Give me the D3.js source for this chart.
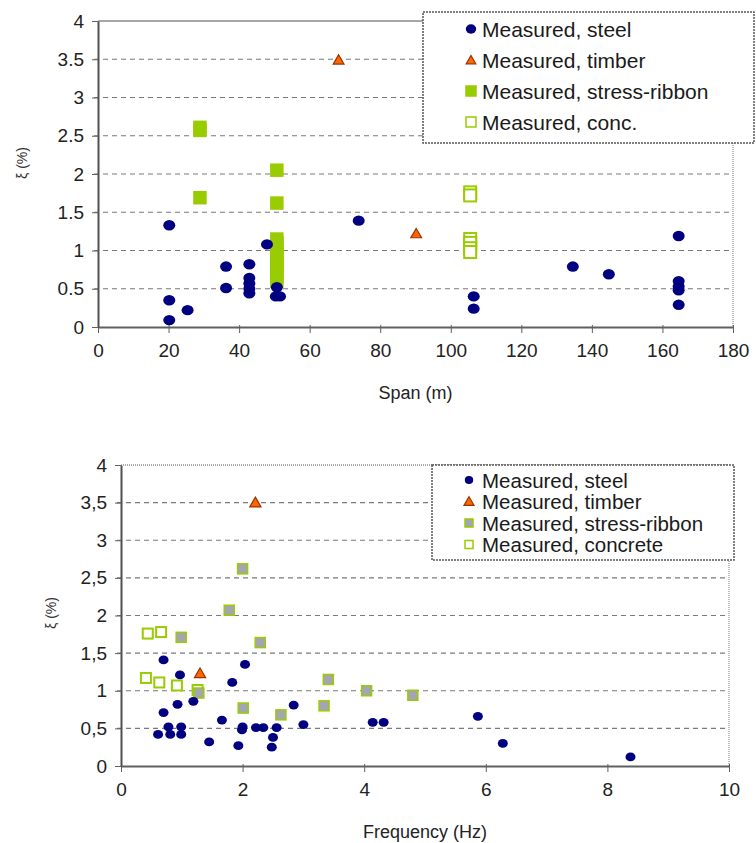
<!DOCTYPE html>
<html>
<head>
<meta charset="utf-8">
<script src="https://cdn.jsdelivr.net/npm/d3@7"></script>
<style>
  body { margin: 0; background: #fff; }
  svg { font-family: "Liberation Sans", Arial, sans-serif; }
</style>
</head>
<body>
<div id="chart"></div>
<script>
const w = 756;
const h = 843;

// span chart data [span (m), damping (%)]
const spanSteel = [[20.2, 1.33], [20.2, 0.35], [20.2, 0.09], [25.4, 0.22], [36.3, 0.79], [36.3, 0.51],
  [42.9, 0.82], [42.9, 0.64], [42.9, 0.57], [42.9, 0.5], [42.9, 0.44], [47.9, 1.08], [50.7, 0.52],
  [50.4, 0.4], [51.6, 0.4], [73.9, 1.39], [106.5, 0.4], [106.5, 0.24], [134.6, 0.79], [144.8, 0.69],
  [164.6, 1.19], [164.6, 0.6], [164.6, 0.53], [164.6, 0.48], [164.6, 0.29]];
const spanTimber = [[68.2, 3.49], [90.2, 1.22]];
const spanRibbon = [[28.9, 2.61], [28.9, 2.57], [28.9, 1.69], [50.7, 2.05], [50.7, 1.62],
  [50.7, 1.15], [50.7, 1.1], [50.7, 1.05], [50.7, 1.0], [50.7, 0.95], [50.7, 0.9], [50.7, 0.85],
  [50.7, 0.8], [50.7, 0.75], [50.7, 0.7], [50.7, 0.65], [50.7, 0.6]];
const spanConc = [[105.5, 1.76], [105.5, 1.72], [105.5, 1.15], [105.5, 1.1], [105.5, 1.03], [105.5, 0.98]];
const spanTicks = [0, 20, 40, 60, 80, 100, 120, 140, 160, 180];
const spanLegend = ['Measured, steel', 'Measured, timber', 'Measured, stress-ribbon', 'Measured, conc.'];

// frequency chart data [frequency (Hz), damping (%)]
const freqSteel = [[0.70, 1.41], [0.97, 1.21], [2.04, 1.35], [1.83, 1.11], [0.70, 0.71], [0.93, 0.82],
  [1.19, 0.86], [2.84, 0.81], [0.61, 0.42], [0.78, 0.52], [0.81, 0.42], [0.99, 0.52], [0.99, 0.42],
  [1.45, 0.32], [1.66, 0.61], [1.93, 0.27], [1.99, 0.48], [2.0, 0.52], [2.22, 0.51], [2.34, 0.51],
  [2.50, 0.38], [2.48, 0.25], [2.56, 0.51], [3.0, 0.55], [4.14, 0.58], [4.32, 0.58], [5.87, 0.66],
  [6.28, 0.30], [8.38, 0.12]];
const freqTimber = [[2.21, 3.5], [1.30, 1.23]];
const freqRibbon = [[2.0, 2.62], [1.78, 2.07], [0.99, 1.71], [2.29, 1.64], [3.41, 1.15], [4.04, 1.0],
  [1.28, 0.97], [2.01, 0.77], [3.34, 0.80], [2.63, 0.68], [4.80, 0.94]];
const freqConc = [[0.44, 1.76], [0.66, 1.78], [0.41, 1.17], [0.63, 1.11], [0.92, 1.07], [1.26, 1.01]];
const freqTicks = [0, 2, 4, 6, 8, 10];
const freqLegend = ['Measured, steel', 'Measured, timber', 'Measured, stress-ribbon', 'Measured, concrete'];

const yTicks = [0, 0.5, 1, 1.5, 2, 2.5, 3, 3.5, 4];

const navy = '#000080';
const green = '#99cc00';

const svg = d3.select('#chart')
  .append('svg')
  .attr('width', w)
  .attr('height', h);

function drawChart(cfg) {
  const xScale = d3.scaleLinear()
    .domain([cfg.ticks[0], cfg.ticks[cfg.ticks.length - 1]])
    .range([cfg.left, cfg.right]);
  const yScale = d3.scaleLinear()
    .domain([0, 4])
    .range([cfg.bottom, cfg.top]);

  const g = svg.append('g');

  // gridlines
  g.selectAll('line.grid')
    .data(yTicks.filter((d) => d > 0 && d < 4))
    .enter()
    .append('line')
    .attr('x1', cfg.left - 4)
    .attr('x2', cfg.right)
    .attr('y1', (d) => yScale(d))
    .attr('y2', (d) => yScale(d))
    .attr('stroke', '#7a7a7a')
    .attr('stroke-width', 1.2)
    .attr('stroke-dasharray', '5 4');

  // frame top and right
  g.append('line')
    .attr('x1', cfg.left).attr('x2', cfg.right)
    .attr('y1', cfg.top).attr('y2', cfg.top)
    .attr('stroke', '#8a8a8a')
    .attr('stroke-width', 1.5)
    .attr('stroke-dasharray', cfg.dottedTop ? '1 1' : null);
  g.append('line')
    .attr('x1', cfg.right).attr('x2', cfg.right)
    .attr('y1', cfg.top).attr('y2', cfg.bottom)
    .attr('stroke', '#8a8a8a')
    .attr('stroke-width', 1.2)
    .attr('stroke-dasharray', '1 1');

  // x-axis
  const xAxis = g.append('g')
    .attr('transform', 'translate(0,' + cfg.bottom + ')')
    .call(d3.axisBottom(xScale).tickValues(cfg.ticks).tickSize(6).tickSizeOuter(0).tickPadding(11));
  xAxis.select('.domain').attr('stroke', '#606060').attr('stroke-width', 2);
  xAxis.selectAll('line').attr('stroke', '#606060').attr('y1', -2);
  xAxis.selectAll('text')
    .style('font-size', '19px')
    .attr('fill', '#222')
    .attr('font-family', '"Liberation Sans", Arial, sans-serif');

  // y-axis
  const yAxis = g.append('g')
    .attr('transform', 'translate(' + cfg.left + ',0)')
    .call(d3.axisLeft(yScale).tickValues(yTicks).tickSize(6).tickSizeOuter(0).tickPadding(8)
      .tickFormat((d) => cfg.comma ? String(d).replace('.', ',') : String(d)));
  yAxis.select('.domain').attr('stroke', '#505050').attr('stroke-width', 2);
  yAxis.selectAll('line').attr('stroke', '#606060');
  yAxis.selectAll('text')
    .style('font-size', '19px')
    .attr('fill', '#222')
    .attr('font-family', '"Liberation Sans", Arial, sans-serif');

  // axis labels
  g.append('text')
    .attr('x', (cfg.left + cfg.right) / 2)
    .attr('y', cfg.xTitleY)
    .attr('text-anchor', 'middle')
    .attr('fill', '#222')
    .style('font-size', '18px')
    .text(cfg.xTitle);

  g.append('text')
    .attr('text-anchor', 'middle')
    .attr('transform', 'translate(' + cfg.yTitleX + ',' + cfg.yTitleY + ')rotate(-90)')
    .attr('fill', '#333')
    .style('font-size', '14px')
    .text('ξ (%)');

  // markers
  const sq = cfg.sq;
  g.selectAll('rect.conc')
    .data(cfg.conc)
    .enter()
    .append('rect')
    .attr('x', (d) => xScale(d[0]) - sq / 2)
    .attr('y', (d) => yScale(d[1]) - sq / 2)
    .attr('width', sq)
    .attr('height', sq)
    .attr('fill', '#fff')
    .attr('stroke', green)
    .attr('stroke-width', 2);

  g.selectAll('rect.ribbon')
    .data(cfg.ribbon)
    .enter()
    .append('rect')
    .attr('x', (d) => xScale(d[0]) - sq / 2)
    .attr('y', (d) => yScale(d[1]) - sq / 2)
    .attr('width', sq)
    .attr('height', sq)
    .attr('fill', cfg.ribbonFill)
    .attr('stroke', green)
    .attr('stroke-width', 1.5);

  g.selectAll('path.timber')
    .data(cfg.timber)
    .enter()
    .append('path')
    .attr('d', d3.symbol(d3.symbolTriangle, cfg.triSize))
    .attr('transform', (d) => 'translate(' + xScale(d[0]) + ',' + (yScale(d[1]) + 1) + ')')
    .attr('fill', '#ff6600')
    .attr('stroke', '#993300')
    .attr('stroke-width', 1.2);

  g.selectAll('ellipse.steel')
    .data(cfg.steel)
    .enter()
    .append('ellipse')
    .attr('cx', (d) => xScale(d[0]))
    .attr('cy', (d) => yScale(d[1]))
    .attr('rx', cfg.rx)
    .attr('ry', cfg.ry)
    .attr('fill', navy);

  // legend
  const lg = g.append('g');
  lg.append('rect')
    .attr('x', cfg.lx)
    .attr('y', cfg.ly)
    .attr('width', cfg.lw)
    .attr('height', cfg.lh)
    .attr('fill', '#fff')
    .attr('stroke', '#555')
    .attr('stroke-width', 1.5)
    .attr('stroke-dasharray', '2 1');

  const ly = (i) => cfg.ly + cfg.lFirst + i * cfg.lStep;
  const mx = cfg.lx + cfg.lMarker;
  lg.append('ellipse')
    .attr('cx', mx).attr('cy', ly(0))
    .attr('rx', cfg.rx - 0.8).attr('ry', cfg.ry - 0.5)
    .attr('fill', navy);
  lg.append('path')
    .attr('d', d3.symbol(d3.symbolTriangle, cfg.triSize * 0.8))
    .attr('transform', 'translate(' + mx + ',' + (ly(1) + 1) + ')')
    .attr('fill', '#ff6600')
    .attr('stroke', '#993300')
    .attr('stroke-width', 1.2);
  lg.append('rect')
    .attr('x', mx - cfg.lsq / 2).attr('y', ly(2) - cfg.lsq / 2)
    .attr('width', cfg.lsq).attr('height', cfg.lsq)
    .attr('fill', cfg.ribbonFill)
    .attr('stroke', green)
    .attr('stroke-width', 1.5);
  lg.append('rect')
    .attr('x', mx - cfg.lsq / 2).attr('y', ly(3) - cfg.lsq / 2)
    .attr('width', cfg.lsq).attr('height', cfg.lsq)
    .attr('fill', '#fff')
    .attr('stroke', green)
    .attr('stroke-width', 1.5);

  lg.selectAll('text')
    .data(cfg.legend)
    .enter()
    .append('text')
    .attr('x', mx + cfg.lText)
    .attr('y', (d, i) => ly(i))
    .attr('dominant-baseline', 'central')
    .attr('fill', '#1a1a1a')
    .style('font-size', cfg.lFont + 'px')
    .text((d) => d);
}

drawChart({
  left: 98, right: 733, top: 21, bottom: 327,
  ticks: spanTicks, comma: false,
  xTitle: 'Span (m)', xTitleY: 399, yTitleX: 27, yTitleY: 163,
  steel: spanSteel, timber: spanTimber, ribbon: spanRibbon, conc: spanConc,
  ribbonFill: green, sq: 12, rx: 6, ry: 5.2, triSize: 50,
  lx: 423, ly: 12, lw: 331, lh: 131, lFirst: 17, lStep: 31, lMarker: 48, lText: 11,
  lsq: 10, lFont: 21, legend: spanLegend, dottedTop: false
});

drawChart({
  left: 121, right: 729, top: 465, bottom: 766,
  ticks: freqTicks, comma: true,
  xTitle: 'Frequency (Hz)', xTitleY: 838, yTitleX: 56, yTitleY: 613,
  steel: freqSteel, timber: freqTimber, ribbon: freqRibbon, conc: freqConc,
  ribbonFill: '#a4a4b4', sq: 10, rx: 5, ry: 4.4, triSize: 55,
  lx: 432, ly: 465, lw: 302, lh: 95, lFirst: 15, lStep: 21.5, lMarker: 37, lText: 13,
  lsq: 8, lFont: 20.5, legend: freqLegend, dottedTop: true
});
</script>
</body>
</html>
